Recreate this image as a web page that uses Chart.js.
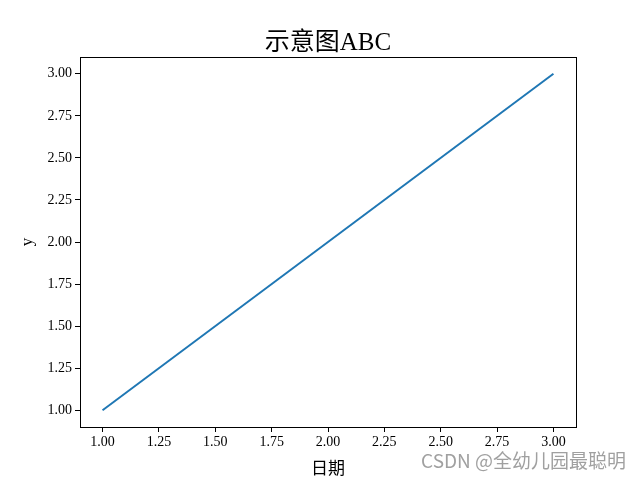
<!DOCTYPE html>
<html>
<head>
<meta charset="utf-8">
<script src="https://cdn.jsdelivr.net/npm/chart.js@4/dist/chart.umd.min.js"></script>
<style>
  html, body { margin: 0; padding: 0; background: #fff; }
  #wrap { width: 640px; height: 480px; }
</style>
</head>
<body>
<div id="wrap"><canvas id="chart" width="640" height="480"></canvas></div>
<script>
const xValues = [1, 2, 3];
const yValues = [1, 2, 3];
const xTicks = [1.00, 1.25, 1.50, 1.75, 2.00, 2.25, 2.50, 2.75, 3.00];
const yTicks = [1.00, 1.25, 1.50, 1.75, 2.00, 2.25, 2.50, 2.75, 3.00];
const titleText = '示意图ABC';

const serif = "'Liberation Serif', 'Times New Roman', 'Noto Sans CJK SC', serif";

// box around the plot area + title centred over it
const frame = {
  id: 'frame',
  afterDatasetsDraw(chart) {
    const a = chart.chartArea, ctx = chart.ctx;
    ctx.save();
    ctx.strokeStyle = '#000';
    ctx.lineWidth = 1;
    ctx.strokeRect(Math.round(a.left) + 0.5, Math.round(a.top) + 0.5,
      Math.round(a.right - a.left), Math.round(a.bottom - a.top));
    ctx.fillStyle = '#000';
    ctx.font = '25px ' + serif;
    ctx.textAlign = 'center';
    ctx.textBaseline = 'alphabetic';
    ctx.fillText(titleText, (a.left + a.right) / 2, 50);
    ctx.restore();
  }
};

// watermark text in the corner
const watermark = {
  id: 'watermark',
  afterDraw(chart) {
    const ctx = chart.ctx;
    ctx.save();
    ctx.fillStyle = 'rgba(150,150,150,0.9)';
    ctx.font = "19px 'Noto Sans CJK SC', 'Noto Sans', sans-serif";
    ctx.textAlign = 'right';
    ctx.textBaseline = 'middle';
    ctx.fillText('CSDN @全幼儿园最聪明', 626, 461);
    ctx.restore();
  }
};

new Chart(document.getElementById('chart'), {
  type: 'line',
  data: {
    datasets: [{
      data: xValues.map((x, i) => ({ x: x, y: yValues[i] })),
      borderColor: '#1f77b4',
      borderWidth: 2,
      pointRadius: 0,
      fill: false,
      tension: 0
    }]
  },
  options: {
    responsive: false,
    animation: false,
    layout: { padding: { top: 57, right: 64, bottom: 0, left: 0 } },
    plugins: {
      legend: { display: false },
      tooltip: { enabled: false },
      title: { display: false }
    },
    scales: {
      x: {
        type: 'linear',
        min: 0.9, max: 3.1,
        afterBuildTicks: s => { s.ticks = xTicks.map(v => ({ value: v })); },
        afterFit: s => { s.height = 53; },
        ticks: {
          color: '#000',
          font: { family: serif, size: 14 },
          padding: 2,
          maxRotation: 0,
          callback: v => Number(v).toFixed(2)
        },
        grid: { drawOnChartArea: false, drawTicks: true, tickLength: 5, color: '#000' },
        border: { display: false },
        title: {
          display: true, text: '日期', color: '#000',
          font: { family: serif, size: 17 }, padding: { top: 2, bottom: 0 }
        }
      },
      y: {
        type: 'linear',
        min: 0.9, max: 3.1,
        afterBuildTicks: s => { s.ticks = yTicks.map(v => ({ value: v })); },
        afterFit: s => { s.width = 80; },
        ticks: {
          color: '#000',
          font: { family: serif, size: 14 },
          padding: 3,
          callback: v => Number(v).toFixed(2)
        },
        grid: { drawOnChartArea: false, drawTicks: true, tickLength: 5, color: '#000' },
        border: { display: false },
        title: {
          display: true, text: 'y', color: '#000',
          font: { family: serif, size: 17 }, padding: { top: 17, bottom: 0 }
        }
      }
    }
  },
  plugins: [frame, watermark]
});
</script>
</body>
</html>
